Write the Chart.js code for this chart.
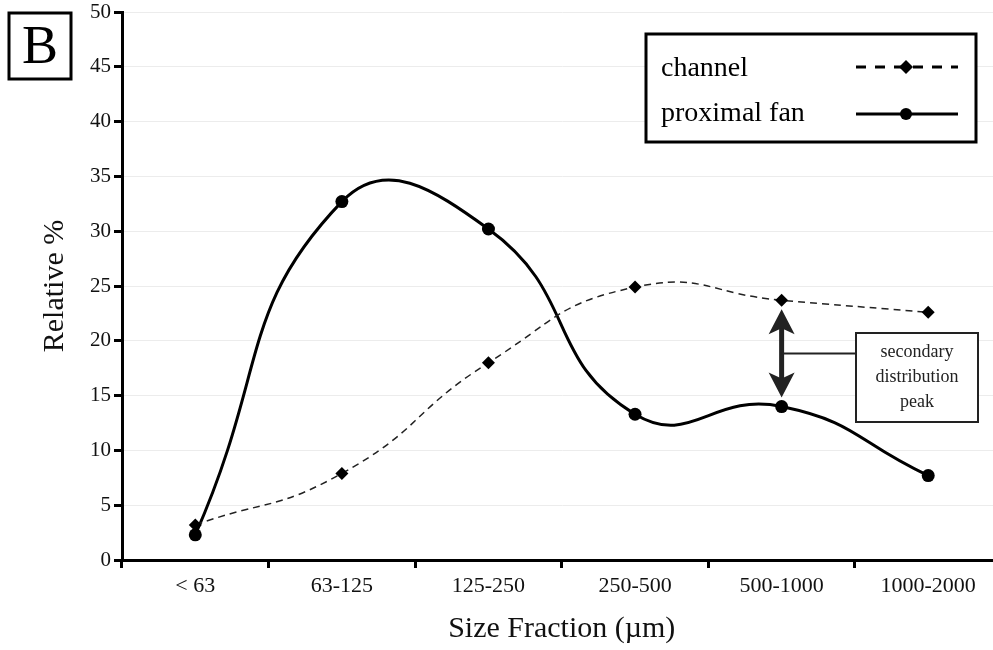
<!DOCTYPE html>
<html>
<head>
<meta charset="utf-8">
<script src="https://cdn.jsdelivr.net/npm/chart.js@4.4.1/dist/chart.umd.min.js"></script>
<style>
  html, body { margin: 0; padding: 0; background: #fff; overflow: hidden; }
  #wrap { width: 993px; height: 650px; overflow: hidden; }
</style>
</head>
<body>
<div id="wrap"><canvas id="chartCanvas" width="1008" height="650"></canvas></div>
<script>
// data
const sizeFractions = ["< 63", "63-125", "125-250", "250-500", "500-1000", "1000-2000"];
const channel = [3.2, 7.9, 18.0, 24.9, 23.7, 22.6];
const proximalFan = [2.3, 32.7, 30.2, 13.3, 14.0, 7.7];
const noteLines = ["secondary", "distribution", "peak"];
const panelLabel = "B";
const peakIndex = 4;

const serif = "'Liberation Serif', 'Times New Roman', serif";

// panel letter, legend box and the "secondary peak" note
const extras = {
  id: "extras",
  afterDraw(chart) {
    const ctx = chart.ctx;
    const x = chart.scales.x;
    const y = chart.scales.y;
    ctx.save();

    // B box
    ctx.lineWidth = 3;
    ctx.strokeStyle = "#000";
    ctx.strokeRect(9, 13, 62, 66);
    ctx.fillStyle = "#000";
    ctx.font = "54px " + serif;
    ctx.textAlign = "center";
    ctx.textBaseline = "middle";
    ctx.fillText(panelLabel, 40, 49);

    // legend
    ctx.fillStyle = "#fff";
    ctx.fillRect(646, 34, 330, 108);
    ctx.strokeRect(646, 34, 330, 108);
    ctx.fillStyle = "#000";
    ctx.font = "28px " + serif;
    ctx.textAlign = "left";
    ctx.textBaseline = "alphabetic";
    ctx.fillText("channel", 661, 76);
    ctx.fillText("proximal fan", 661, 121);

    ctx.lineWidth = 3;
    ctx.setLineDash([10, 9]);
    ctx.beginPath();
    ctx.moveTo(856, 67);
    ctx.lineTo(958, 67);
    ctx.stroke();
    ctx.setLineDash([]);
    ctx.beginPath();
    ctx.moveTo(856, 114);
    ctx.lineTo(958, 114);
    ctx.stroke();
    ctx.beginPath();
    ctx.moveTo(906, 60); ctx.lineTo(913, 67); ctx.lineTo(906, 74); ctx.lineTo(899, 67);
    ctx.closePath();
    ctx.fill();
    ctx.beginPath();
    ctx.arc(906, 114, 6, 0, Math.PI * 2);
    ctx.fill();

    // double arrow between the two series
    const ax = x.getPixelForValue(peakIndex);
    const top = y.getPixelForValue(channel[peakIndex]) + 9;
    const bot = y.getPixelForValue(proximalFan[peakIndex]) - 9;
    ctx.fillStyle = "#222";
    ctx.strokeStyle = "#222";
    ctx.lineWidth = 5;
    ctx.beginPath();
    ctx.moveTo(ax, top + 15);
    ctx.lineTo(ax, bot - 15);
    ctx.stroke();
    ctx.beginPath();
    ctx.moveTo(ax, top); ctx.lineTo(ax + 13, top + 25); ctx.lineTo(ax, top + 19); ctx.lineTo(ax - 13, top + 25);
    ctx.closePath();
    ctx.fill();
    ctx.beginPath();
    ctx.moveTo(ax, bot); ctx.lineTo(ax + 13, bot - 25); ctx.lineTo(ax, bot - 19); ctx.lineTo(ax - 13, bot - 25);
    ctx.closePath();
    ctx.fill();

    // note box
    const midY = (top + bot) / 2;
    ctx.lineWidth = 2;
    ctx.strokeStyle = "#222";
    ctx.beginPath();
    ctx.moveTo(ax, midY);
    ctx.lineTo(856, midY);
    ctx.stroke();
    ctx.fillStyle = "#fff";
    ctx.fillRect(856, 333, 122, 89);
    ctx.strokeRect(856, 333, 122, 89);
    ctx.fillStyle = "#222";
    ctx.font = "18px " + serif;
    ctx.textAlign = "center";
    ctx.textBaseline = "middle";
    noteLines.forEach((t, i) => ctx.fillText(t, 917, 352 + i * 25));

    ctx.restore();
  },
};

const ctx = document.getElementById("chartCanvas").getContext("2d");

new Chart(ctx, {
  type: "line",
  data: {
    labels: sizeFractions,
    datasets: [
      {
        label: "channel",
        data: channel,
        borderColor: "#222",
        backgroundColor: "#000",
        borderWidth: 1.5,
        borderDash: [7, 5],
        tension: 0.5,
        pointStyle: "rectRot",
        pointRadius: 6.5,
        pointBorderWidth: 0,
      },
      {
        label: "proximal fan",
        data: proximalFan,
        borderColor: "#000",
        backgroundColor: "#000",
        borderWidth: 3,
        tension: 0.5,
        pointStyle: "circle",
        pointRadius: 6.5,
        pointBorderWidth: 0,
      },
    ],
  },
  options: {
    responsive: false,
    animation: false,
    layout: { padding: { top: 12, left: 0, right: 0, bottom: 0 } },
    plugins: {
      legend: { display: false },
      tooltip: { enabled: false },
    },
    scales: {
      x: {
        offset: true,
        afterFit: (s) => {
          s.height = 90;
          s.paddingLeft = 0;
          s.paddingRight = 0;
        },
        grid: {
          offset: true,
          drawOnChartArea: false,
          color: "#000",
          tickColor: "#000",
          tickWidth: 3,
          tickLength: 8,
        },
        border: { color: "#000", width: 3 },
        ticks: {
          color: "#111",
          padding: 5,
          maxRotation: 0,
          font: { family: serif, size: 22 },
        },
        title: {
          display: true,
          text: "Size Fraction (µm)",
          color: "#111",
          padding: { top: 0, bottom: 3 },
          font: { family: serif, size: 30 },
        },
      },
      y: {
        min: 0,
        max: 50,
        afterFit: (s) => {
          s.width = 122;
          s.paddingTop = 0;
          s.paddingBottom = 0;
        },
        grid: {
          color: "#ececec",
          lineWidth: 1,
          tickColor: "#000",
          tickWidth: 3,
          tickLength: 8,
        },
        border: { color: "#000", width: 3 },
        ticks: {
          stepSize: 5,
          color: "#111",
          padding: 3,
          font: { family: serif, size: 21 },
        },
        title: {
          display: true,
          text: "Relative %",
          color: "#111",
          padding: { top: 37, bottom: 0 },
          font: { family: serif, size: 30 },
        },
      },
    },
  },
  plugins: [extras],
});
</script>
</body>
</html>
